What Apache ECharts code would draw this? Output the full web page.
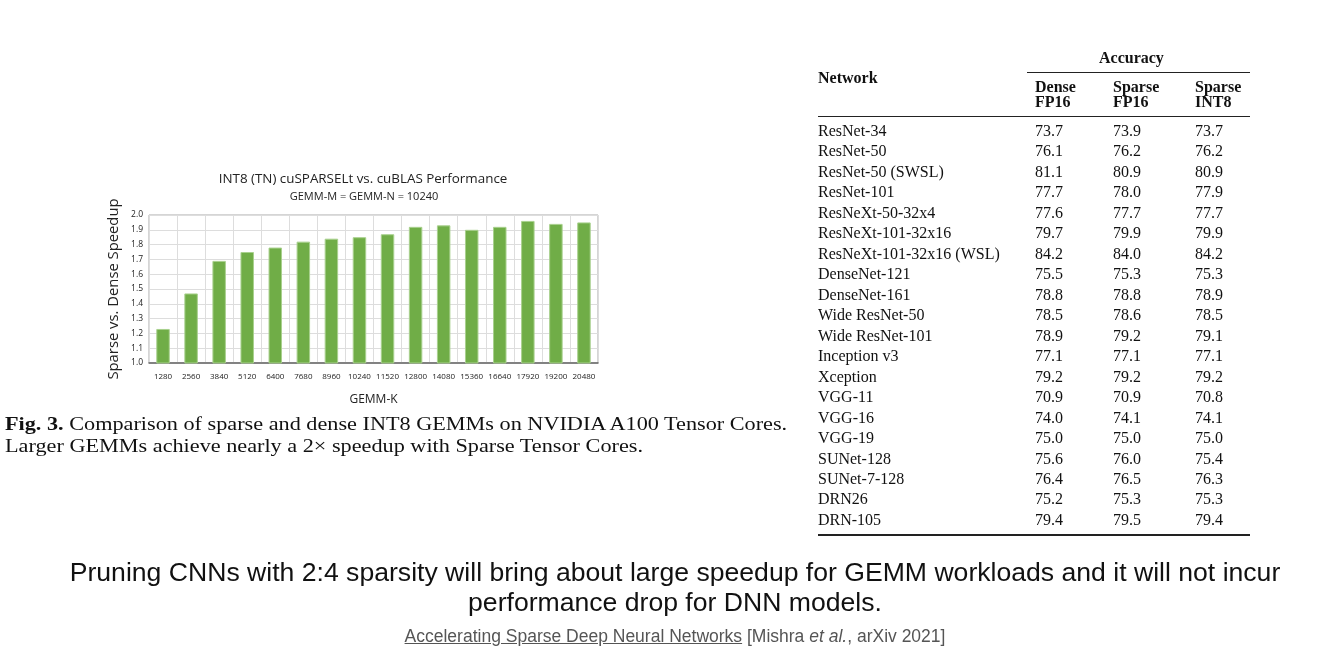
<!DOCTYPE html>
<html>
<head>
<meta charset="utf-8">
<script src="https://cdn.jsdelivr.net/npm/echarts@6/dist/echarts.min.js"></script>
<style>
  html, body { margin: 0; padding: 0; background: #fff; }
  #wrap { position: relative; width: 1336px; height: 648px; overflow: hidden; }
  #chart { position: absolute; left: 0; top: 0; width: 1336px; height: 648px; }
  .t { position: absolute; font-family: "Liberation Serif", "DejaVu Serif", serif; color: #111; font-size: 16px; line-height: 20px; white-space: nowrap; }
  .b { font-weight: bold; }
  .rule { position: absolute; background: #222; }
  .cap { position: absolute; left: 5px; font-family: "Liberation Serif", serif; font-size: 19.5px; color: #111; white-space: nowrap; line-height: 22px; transform: scaleX(1.14); transform-origin: 0 0; }
  .main { position: absolute; left: 7px; width: 1336px; text-align: center; font-family: "Liberation Sans", Arial, sans-serif; font-size: 26.6px; color: #111; line-height: 30px; }
  .ref { position: absolute; left: 7px; width: 1336px; text-align: center; font-family: "Liberation Sans", Arial, sans-serif; font-size: 17.5px; color: #555; top: 626px; line-height: 20px; }
</style>
</head>
<body>
<div id="wrap">
  <div id="chart"></div>
  <div id="table"></div>
  <div class="cap" style="top:413px;"><b>Fig. 3.</b> Comparison of sparse and dense INT8 GEMMs on NVIDIA A100 Tensor Cores.</div>
  <div class="cap" style="top:435px;">Larger GEMMs achieve nearly a 2&times; speedup with Sparse Tensor Cores.</div>
  <div class="main" style="top:557px;">Pruning CNNs with 2:4 sparsity will bring about large speedup for GEMM workloads and it will not incur<br>performance drop for DNN models.</div>
  <div class="ref"><span style="text-decoration:underline;">Accelerating Sparse Deep Neural Networks</span> [Mishra <i>et al.</i>, arXiv 2021]</div>
</div>
<script>
// ---- chart data ----
var gemmK = ['1280','2560','3840','5120','6400','7680','8960','10240','11520','12800','14080','15360','16640','17920','19200','20480'];
var speedup = [1.23, 1.47, 1.69, 1.75, 1.78, 1.82, 1.84, 1.85, 1.87, 1.92, 1.93, 1.90, 1.92, 1.96, 1.94, 1.95];

// ---- table data ----
var networks = ['ResNet-34','ResNet-50','ResNet-50 (SWSL)','ResNet-101','ResNeXt-50-32x4','ResNeXt-101-32x16','ResNeXt-101-32x16 (WSL)','DenseNet-121','DenseNet-161','Wide ResNet-50','Wide ResNet-101','Inception v3','Xception','VGG-11','VGG-16','VGG-19','SUNet-128','SUNet-7-128','DRN26','DRN-105'];
var denseFP16  = ['73.7','76.1','81.1','77.7','77.6','79.7','84.2','75.5','78.8','78.5','78.9','77.1','79.2','70.9','74.0','75.0','75.6','76.4','75.2','79.4'];
var sparseFP16 = ['73.9','76.2','80.9','78.0','77.7','79.9','84.0','75.3','78.8','78.6','79.2','77.1','79.2','70.9','74.1','75.0','76.0','76.5','75.3','79.5'];
var sparseINT8 = ['73.7','76.2','80.9','77.9','77.7','79.9','84.2','75.3','78.9','78.5','79.1','77.1','79.2','70.8','74.1','75.0','75.4','76.3','75.3','79.4'];

// ---- build table ----
(function () {
  var t = document.getElementById('table');
  var html = '';
  function cell(x, y, txt, cls) {
    html += '<div class="t ' + (cls || '') + '" style="left:' + x + 'px;top:' + (y - 10) + 'px;">' + txt + '</div>';
  }
  function rule(x, y, w, h) {
    html += '<div class="rule" style="left:' + x + 'px;top:' + y + 'px;width:' + w + 'px;height:' + h + 'px;"></div>';
  }
  var colX = [818, 1035, 1113, 1195];
  cell(1099, 58, 'Accuracy', 'b');
  rule(1027, 72, 223, 1);
  cell(818, 78, 'Network', 'b');
  cell(colX[1], 87, 'Dense', 'b'); cell(colX[1], 102, 'FP16', 'b');
  cell(colX[2], 87, 'Sparse', 'b'); cell(colX[2], 102, 'FP16', 'b');
  cell(colX[3], 87, 'Sparse', 'b'); cell(colX[3], 102, 'INT8', 'b');
  rule(818, 116, 432, 1);
  for (var i = 0; i < networks.length; i++) {
    var y = 131 + i * 20.47;
    cell(colX[0], y, networks[i]);
    cell(colX[1], y, denseFP16[i]);
    cell(colX[2], y, sparseFP16[i]);
    cell(colX[3], y, sparseINT8[i]);
  }
  rule(818, 534, 432, 2);
  t.innerHTML = html;
})();

// ---- chart ----
var chart = echarts.init(document.getElementById('chart'), null, { renderer: 'canvas' });
var sans = '"Open Sans", "Liberation Sans", sans-serif';
chart.setOption({
  animation: false,
  backgroundColor: 'transparent',
  graphic: [
    { type: 'text', x: 363, y: 179, style: { text: 'INT8 (TN) cuSPARSELt vs. cuBLAS Performance', font: '13.4px ' + sans, fill: '#222', textAlign: 'center', textVerticalAlign: 'middle' } },
    { type: 'text', x: 364, y: 197, style: { text: 'GEMM-M = GEMM-N = 10240', font: '11px ' + sans, fill: '#222', textAlign: 'center', textVerticalAlign: 'middle' } }
  ],
  grid: { left: 149, top: 215, width: 449, height: 148, show: true, borderColor: '#aaa', borderWidth: 1 },
  xAxis: {
    type: 'category',
    data: gemmK,
    boundaryGap: true,
    name: 'GEMM-K',
    nameLocation: 'middle',
    nameGap: 31,
    nameTextStyle: { fontFamily: sans, fontSize: 12, color: '#222' },
    axisLine: { lineStyle: { color: '#666', width: 1.5 } },
    axisTick: { show: false },
    axisLabel: { fontFamily: sans, fontSize: 8, color: '#222', margin: 10, interval: 0 },
    splitLine: { show: true, lineStyle: { color: '#ddd', width: 1 } }
  },
  yAxis: {
    type: 'value',
    min: 1.0,
    max: 2.0,
    interval: 0.1,
    name: 'Sparse vs. Dense Speedup',
    nameLocation: 'middle',
    nameRotate: 90,
    nameGap: 28,
    nameTextStyle: { fontFamily: sans, fontSize: 14.8, color: '#222' },
    axisLine: { show: false },
    axisTick: { show: false },
    axisLabel: { fontFamily: sans, fontSize: 8.5, color: '#222', margin: 6, formatter: function (v) { return v.toFixed(1); } },
    splitLine: { show: true, lineStyle: { color: '#ddd', width: 1 } }
  },
  series: [{
    type: 'bar',
    data: speedup,
    barWidth: '48%',
    itemStyle: { color: '#70AD47', borderColor: '#A9D18E', borderWidth: 1 }
  }]
});
</script>
</body>
</html>
